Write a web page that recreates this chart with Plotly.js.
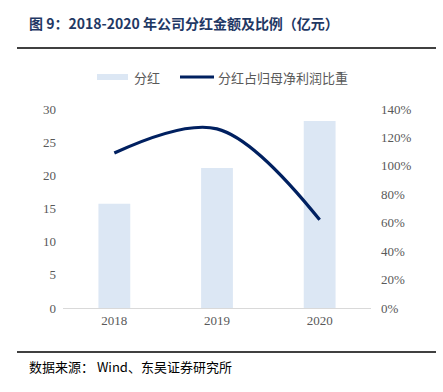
<!DOCTYPE html>
<html>
<head>
<meta charset="utf-8">
<script src="https://cdn.plot.ly/plotly-3.0.1.min.js"></script>
<style>html,body{margin:0;padding:0;background:#fff;}#chart{width:443px;height:392px;}</style>
</head>
<body>
<div id="chart"></div>
<script>
const categories = ['2018', '2019', '2020'];
const dividend = [15.7, 21.1, 28.2];
const ratio = [1.09, 1.26, 0.62];
const leftTicks = [0, 5, 10, 15, 20, 25, 30];
const rightTicks = [0, 0.2, 0.4, 0.6, 0.8, 1.0, 1.2, 1.4];
const seriesNames = ['分红', '分红占归母净利润比重'];

const cjk = '"Noto Sans CJK SC", "Noto Sans", sans-serif';
const serif = '"Liberation Serif", "DejaVu Serif", serif';
const barColor = '#DCE7F4';
const lineColor = '#002060';

const traces = [
  {
    type: 'bar', name: seriesNames[0], x: categories, y: dividend,
    marker: {color: barColor}, width: 0.31, yaxis: 'y'
  },
  {
    type: 'scatter', mode: 'lines', name: seriesNames[1], x: categories, y: ratio,
    line: {color: lineColor, width: 3.2, shape: 'spline', smoothing: 1}, yaxis: 'y2'
  }
];

// pixel -> paper helpers (plot area: x 63..371, y 109..308)
const px = v => (v - 63) / 308;
const py = v => (308 - v) / 199;

const layout = {
  width: 443, height: 392,
  margin: {l: 63, r: 72, t: 109, b: 84},
  paper_bgcolor: '#fff', plot_bgcolor: '#fff',
  showlegend: false,
  xaxis: {
    type: 'category', range: [-0.5, 2.5], showline: true, linecolor: '#D9D9D9', linewidth: 1,
    ticks: '', showgrid: false, zeroline: false,
    tickfont: {family: serif, size: 13, color: '#595959'}
  },
  yaxis: {
    range: [0, 30], tickvals: leftTicks, showgrid: false, zeroline: false, showline: false,
    ticks: '', ticklabelstandoff: 6,
    tickfont: {family: serif, size: 13, color: '#595959'}
  },
  yaxis2: {
    overlaying: 'y', side: 'right', range: [0, 1.4], tickvals: rightTicks, tickformat: '.0%',
    showgrid: false, zeroline: false, showline: false, ticks: '', ticklabelstandoff: 9,
    tickfont: {family: serif, size: 13, color: '#595959'}
  },
  annotations: [
    {
      xref: 'paper', yref: 'paper', x: px(27), y: py(23),
      xanchor: 'left', yanchor: 'middle', showarrow: false,
      text: '<b>图 9：2018-2020 年公司分红金额及比例（亿元）</b>',
      font: {family: cjk, size: 14, color: '#1F3864'}
    },
    {
      xref: 'paper', yref: 'paper', x: px(27), y: py(366),
      xanchor: 'left', yanchor: 'middle', showarrow: false,
      text: '数据来源： Wind、东吴证券研究所',
      font: {family: cjk, size: 13, color: '#000'}
    },
    {
      xref: 'paper', yref: 'paper', x: px(132), y: py(77),
      xanchor: 'left', yanchor: 'middle', showarrow: false,
      text: seriesNames[0], font: {family: cjk, size: 13, color: '#595959'}
    },
    {
      xref: 'paper', yref: 'paper', x: px(216), y: py(77),
      xanchor: 'left', yanchor: 'middle', showarrow: false,
      text: seriesNames[1], font: {family: cjk, size: 13, color: '#595959'}
    }
  ],
  shapes: [
    {type: 'line', xref: 'paper', yref: 'paper', x0: px(17), x1: px(436),
      y0: py(48), y1: py(48), line: {color: '#000', width: 1.5}},
    {type: 'line', xref: 'paper', yref: 'paper', x0: px(17), x1: px(436),
      y0: py(352), y1: py(352), line: {color: '#000', width: 1.5}},
    {type: 'rect', xref: 'paper', yref: 'paper', x0: px(97), x1: px(128),
      y0: py(80), y1: py(74), fillcolor: barColor, line: {width: 0}},
    {type: 'line', xref: 'paper', yref: 'paper', x0: px(180), x1: px(214),
      y0: py(77), y1: py(77), line: {color: lineColor, width: 3}}
  ]
};

Plotly.newPlot('chart', traces, layout, {displayModeBar: false, staticPlot: true});
</script>
</body>
</html>
